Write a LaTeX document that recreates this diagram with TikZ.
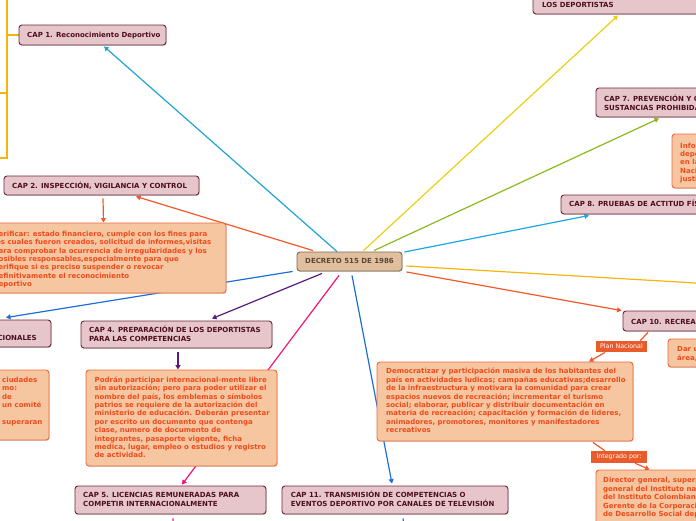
\documentclass[tikz,border=0pt]{standalone}
\usepackage{fontspec}
\setmainfont{DejaVu Sans}
\usetikzlibrary{arrows.meta,shadows,calc}
\pgfdeclarelayer{bg}
\pgfsetlayers{bg,main}
\definecolor{capfill}{HTML}{E6C6CB}
\definecolor{capdraw}{HTML}{6B2738}
\definecolor{captext}{HTML}{4D0F20}
\definecolor{decfill}{HTML}{E0BF9E}
\definecolor{decdraw}{HTML}{7E6552}
\definecolor{dectext}{HTML}{5C4633}
\definecolor{contfill}{HTML}{F5C6A0}
\definecolor{contdraw}{HTML}{F0683A}
\definecolor{conttext}{HTML}{F04A1B}
\definecolor{lblfill}{HTML}{E95B2B}
\definecolor{cyanc}{HTML}{1EA5D2}
\definecolor{yellowc}{HTML}{EBCF12}
\definecolor{greenc}{HTML}{8CBA1C}
\definecolor{skyc}{HTML}{1AA8E6}
\definecolor{amberc}{HTML}{F5B40A}
\definecolor{redc}{HTML}{F2582A}
\definecolor{bluec}{HTML}{1E6ED8}
\definecolor{purplec}{HTML}{5A1C7C}
\definecolor{pinkc}{HTML}{F0157A}
\begin{document}
\begin{tikzpicture}[x=1pt,y=-1pt,
  shad/.style={drop shadow={shadow xshift=0.7pt,shadow yshift=-0.9pt,opacity=0.35}},
  capbox/.style={draw=capdraw,fill=capfill,line width=0.9pt,rounded corners=3pt,inner sep=0pt,shad},
  decbox/.style={draw=decdraw,fill=decfill,line width=0.9pt,rounded corners=3pt,inner sep=0pt,shad},
  contbox/.style={draw=contdraw,fill=contfill,line width=0.9pt,rounded corners=3pt,inner sep=0pt,shad},
  captxt/.style={text=captext,font=\fontsize{7}{8.7}\selectfont\bfseries,align=left,inner sep=0pt,anchor=base west},
  dectxt/.style={text=dectext,font=\fontsize{7}{8.7}\selectfont\bfseries,inner sep=0pt,anchor=base west},
  conttxt/.style={text=conttext,font=\fontsize{7}{8.4}\selectfont\bfseries,align=left,inner sep=0pt,anchor=base west},
  lbl/.style={fill=lblfill,text=white,font=\fontsize{6.3}{7}\selectfont,inner sep=0pt},
  conn/.style={line width=1.2pt},
  arr/.style={-{Triangle[length=4.5pt,width=5pt]}}]
\useasboundingbox (0,0) rectangle (696,520);

% ---- boxes (text nodes are placed by the baseline of their last line) ----
\node[decbox,minimum width=105,minimum height=19] (dec) at (349.5,261.5) {};
\node[dectxt] (dect) at (305,263.6) {DECRETO 515 DE 1986};

\node[capbox,minimum width=147,minimum height=20] (c1) at (92.5,35) {};
\node[captxt] (c1t) at (27,37.5) {CAP 1. Reconocimiento Deportivo};

\node[capbox,minimum width=195,minimum height=19] (c2) at (101.5,185.5) {};
\node[captxt] (c2t) at (12,188.3) {CAP 2. INSPECCIÓN, VIGILANCIA Y CONTROL};

\node[capbox,minimum width=201,minimum height=27] (c3) at (-49.5,333.5) {};
\node[captxt,anchor=base east] (c3t) at (37,340.3) {CAP 3. EVENTOS\\DEPORTIVOS INTERNACIONALES};

\node[capbox,minimum width=191,minimum height=27] (c4) at (176.5,334.5) {};
\node[captxt] (c4t) at (89,341.2) {CAP 4. PREPARACIÓN DE LOS DEPORTISTAS\\PARA LAS COMPETENCIAS};

\node[capbox,minimum width=191,minimum height=28] (c5) at (170.5,500) {};
\node[captxt] (c5t) at (83,506.5) {CAP 5. LICENCIAS REMUNERADAS PARA\\COMPETIR INTERNACIONALMENTE};

\node[capbox,minimum width=227,minimum height=29] (c6) at (646.5,-0.5) {};
\node[captxt] (c6t) at (542,7.3) {CAP 6. ESTÍMULOS A\\LOS DEPORTISTAS};

\node[capbox,minimum width=204,minimum height=29] (c7) at (698,102.5) {};
\node[captxt] (c7t) at (604,110.2) {CAP 7. PREVENCIÓN Y CONTROL DE\\SUSTANCIAS PROHIBIDAS};

\node[capbox,minimum width=199,minimum height=19] (c8) at (660.5,204.5) {};
\node[captxt] (c8t) at (569,206.9) {CAP 8. PRUEBAS DE ACTITUD FÍSICA};

\node[capbox,minimum width=97,minimum height=20] (c10) at (671.5,321) {};
\node[captxt] (c10t) at (631,324.3) {CAP 10. RECREACIÓN};

\node[capbox,minimum width=226,minimum height=28] (c11) at (395,500) {};
\node[captxt] (c11t) at (290.7,506.2) {CAP 11. TRANSMISIÓN DE COMPETENCIAS O\\EVENTOS DEPORTIVO POR CANALES DE TELEVISIÓN};

\node[contbox,minimum width=296,minimum height=70] (k2) at (78,258) {};
\node[conttxt] (k2t) at (-6.5,286.6) {Verificar: estado financiero, cumple con los fines para\\los cuales fueron creados, solicitud de informes,visitas\\para comprobar la ocurrencia de irregularidades y los\\posibles responsables,especialmente para que\\verifique si es preciso suspender o revocar\\definitivamente el reconocimiento\\deportivo};

\node[contbox,minimum width=199,minimum height=70] (k3) at (-50.5,405) {};
\node[conttxt] (k3t) at (2,424.4) {ciudades\\mo:\\de\\un comité\\ \\superaran};

\node[contbox,minimum width=191,minimum height=96] (k4) at (181.5,418) {};
\node[conttxt] (k4t) at (94.5,457.8) {Podrán participar internacional-mente libre\\sin autorización; pero para poder utilizar el\\nombre del país, los emblemas o símbolos\\patrios se requiere de la autorización del\\ministerio de educación. Deberán presentar\\por escrito un documento que contenga\\clase, numero de documento de\\integrantes, pasaporte vigente, ficha\\medica, lugar, empleo o estudios y registro\\de actividad.};

\node[contbox,minimum width=128,minimum height=54] (k7) at (736,161) {};
\node[conttxt] (k7t) at (680,181.7) {Informar a los\\deportistas\\en la\\Nacional\\justificación};

\node[contbox,minimum width=92,minimum height=28] (k10) at (714,353) {};
\node[conttxt] (k10t) at (677,360.1) {Dar una\\área,};

\node[contbox,minimum width=256,minimum height=79] (demo) at (505,401.5) {};
\node[conttxt] (demot) at (386,432.7) {Democratizar y participación masiva de los habitantes del\\país en actividades ludicas; campañas educativas;desarrollo\\de la infraestructura y motivara la comunidad para crear\\espacios nuevos de recreación; incrementar el turismo\\social; elaborar, publicar y distribuir documentación en\\materia de recreación; capacitación y formación de lideres,\\animadores, promotores, monitores y manifestadores\\recreativos};

\node[contbox,minimum width=204,minimum height=90] (dir) at (698,515) {};
\node[conttxt] (dirt) at (603,516.4) {Director general, superpintendente\\general del Instituto nacional\\del Instituto Colombiano\\Gerente de la Corporación\\de Desarrollo Social departamental};

\node[lbl,minimum width=51,minimum height=11.5] (plan) at (621.5,346.5) {Plan Nacional};
\node[lbl,minimum width=56,minimum height=12] (integ) at (619,457) {Integrado por:};

% free ends
\coordinate (cap9) at (730,285);
\coordinate (spTop) at (7,-10);
\coordinate (spJoin) at (7,35);
\coordinate (spMid) at (7,93);
\coordinate (spBot) at (7,158);
\coordinate (lfA) at (-10,93);
\coordinate (lfB) at (-10,158);
\coordinate (c5out) at (173.5,530);
\coordinate (c11out) at (404.5,530);

% ---- connectors ----
\begin{pgfonlayer}{bg}
\draw[conn,cyanc,arr] ($(dec.north)+(-12.5,0)$) -- ($(c1.south)+(11.5,1)$);
\draw[conn,yellowc,arr] ($(dec.north)+(14,-1)$) -- ($(c6.south)+(-28.5,1)$);
\draw[conn,greenc,arr] ($(dec.north)+(24.5,-1)$) -- ($(c7.south)+(-39,1)$);
\draw[conn,skyc,arr] ($(dec.east)+(2,-9.5)$) -- ($(c8.south)+(-71.5,1)$);
\draw[conn,amberc] ($(dec.east)+(4,4.5)$) -- (cap9);
\draw[conn,redc,arr] ($(dec.south east)+(4,0.5)$) -- ($(c10.north west)+(-1,0)$);
\draw[conn,redc,arr] ($(dec.north)+(-36.5,-1)$) -- ($(c2.south)+(34.5,1)$);
\draw[conn,bluec,arr] ($(dec.south west)+(-4,0)$) -- ($(c3.north)+(55.5,-2)$);
\draw[conn,purplec,arr] ($(dec.south)+(-27.5,2)$) -- ($(c4.north)+(35.5,-2)$);
\draw[conn,pinkc,arr] ($(dec.south)+(-10.5,4)$) -- ($(c5.north)+(11.5,-1)$);
\draw[conn,bluec,arr] ($(dec.south)+(2.5,4)$) -- ($(c11.north)+(-3,-2)$);

\draw[conn,redc,arr] ($(c2.south)+(1.5,3)$) -- ($(k2.north)+(25.5,0)$);
\draw[conn,purplec,arr] ($(c4.south)+(1.5,4)$) -- ($(k4.north)+(-3.5,0)$);
\draw[conn,redc] ($(c10.south)+(-23.5,1)$) -- ($(plan.north east)+(-7,0)$);
\draw[conn,redc,arr] ($(plan.south)+(-16.5,0)$) -- ($(demo.north)+(84,0)$);
\draw[conn,redc] ($(demo.south)+(88,1)$) -- ($(integ.north)+(-14,0)$);
\draw[conn,redc,arr] ($(integ.south)+(16,0)$) -- ($(dir.north west)+(54,0)$);
\draw[conn,pinkc] ($(c5.south)+(2.5,4)$) -- (c5out);
\draw[conn,bluec] ($(c11.south)+(8,4)$) -- (c11out);

\draw[conn,amberc] (c1.west) -- (spJoin);
\draw[conn,amberc] (spTop) -- (spBot) -- (lfB);
\draw[conn,amberc] (spMid) -- (lfA);
\end{pgfonlayer}
\end{tikzpicture}
\end{document}
